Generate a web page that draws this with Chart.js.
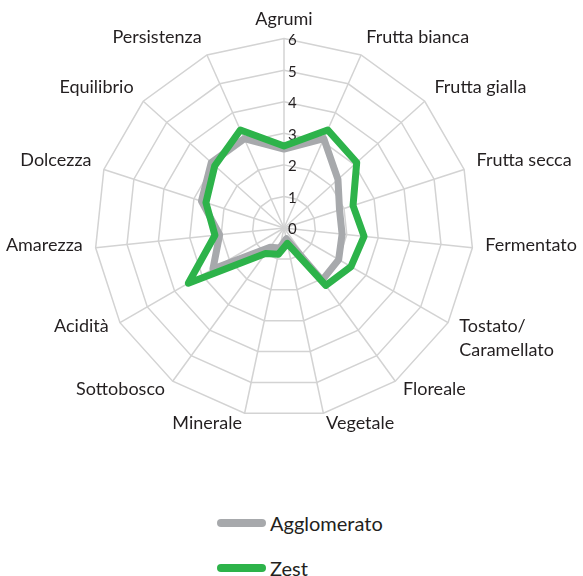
<!DOCTYPE html>
<html>
<head>
<meta charset="utf-8">
<script src="https://cdn.jsdelivr.net/npm/chart.js@4.4.1/dist/chart.umd.min.js"></script>
<style>
  html, body { margin: 0; padding: 0; background: #ffffff; }
  #wrap { position: relative; width: 583px; height: 576px; overflow: hidden; }
  #c { position: absolute; left: 0; top: 0; }
  .leg { position: absolute; left: 217px; height: 24px; display: flex; align-items: center;
         font-family: 'Lato', sans-serif; font-size: 20px; color: #231f20; }
  .leg .sw { width: 49px; height: 8px; border-radius: 4px; margin-right: 4px; }
</style>
</head>
<body>
<div id="wrap">
  <canvas id="c" width="583" height="450"></canvas>
  <div id="legend"></div>
</div>
<script>
const categories = ['Agrumi', 'Frutta bianca', 'Frutta gialla', 'Frutta secca', 'Fermentato',
  ['Tostato/', 'Caramellato'], 'Floreale', 'Vegetale', 'Minerale', 'Sottobosco',
  'Acidità', 'Amarezza', 'Dolcezza', 'Equilibrio', 'Persistenza'];
const agglomerato = [2.5, 3.1, 2.3, 1.85, 1.85, 2.0, 2.05, 0.35, 0.65, 0.75, 2.6, 2.05, 2.75, 3.1, 3.1];
const zest = [2.6, 3.4, 3.1, 2.3, 2.55, 2.45, 2.25, 0.5, 0.85, 1.0, 3.5, 2.2, 2.6, 2.95, 3.4];
const tickLabels = ['0', '1', '2', '3', '4', '5', '6'];
const seriesNames = ['Agglomerato', 'Zest'];
const seriesColors = ['#a7a9ac', '#2db34a'];

const textPlugin = {
  id: 'radarText',
  beforeDatasetsDraw(chart) {
    const s = chart.scales.r;
    const ctx = chart.ctx;
    ctx.save();
    ctx.fillStyle = '#231f20';
    // tick labels, to the right of the vertical axis
    ctx.font = '15px Lato, sans-serif';
    ctx.textAlign = 'left';
    ctx.textBaseline = 'middle';
    tickLabels.forEach((t) => {
      const d = s.getDistanceFromCenterForValue(Number(t));
      ctx.fillText(t, s.xCenter + 4, s.yCenter - d + 1.5);
    });
    // category labels, centred on their spoke end
    ctx.font = '18px Lato, sans-serif';
    chart.data.labels.forEach((lab, i) => {
      const a = s.getIndexAngle(i);
      const p = s.getPointPosition(i, s.drawingArea + 13);
      const sn = Math.sin(a);
      ctx.textAlign = Math.abs(sn) < 0.05 ? 'center' : (sn > 0 ? 'left' : 'right');
      const lines = Array.isArray(lab) ? lab : [lab];
      const y0 = p.y - (4.25 + 1.75 * Math.cos(a));
      lines.forEach((ln, k) => ctx.fillText(ln, p.x, y0 + k * 24));
    });
    ctx.restore();
  }
};

new Chart(document.getElementById('c'), {
  type: 'radar',
  data: {
    labels: categories,
    datasets: [
      { label: seriesNames[0], data: agglomerato, borderColor: seriesColors[0], backgroundColor: seriesColors[0],
        borderWidth: 7, pointRadius: 0, fill: false, borderJoinStyle: 'round', order: 2 },
      { label: seriesNames[1], data: zest, borderColor: seriesColors[1], backgroundColor: seriesColors[1],
        borderWidth: 7, pointRadius: 0, fill: false, borderJoinStyle: 'round', order: 1 }
    ]
  },
  options: {
    responsive: false,
    animation: false,
    devicePixelRatio: 1,
    layout: { padding: { left: 0, right: 0, top: 3, bottom: 0 } },
    plugins: { legend: { display: false }, tooltip: { enabled: false } },
    scales: {
      r: {
        min: 0, max: 6,
        ticks: { display: false, stepSize: 1 },
        grid: { color: '#d3d3d3', lineWidth: 1.5 },
        angleLines: { color: '#d3d3d3', lineWidth: 1.5 },
        pointLabels: { font: { family: 'Lato', size: 18 }, color: 'rgba(0,0,0,0)', padding: 12 }
      }
    }
  },
  plugins: [textPlugin]
});

const legendEl = document.getElementById('legend');
const legendTops = [511, 556];
seriesNames.forEach((n, i) => {
  const d = document.createElement('div');
  d.className = 'leg';
  d.style.top = legendTops[i] + 'px';
  const sw = document.createElement('span');
  sw.className = 'sw';
  sw.style.background = seriesColors[i];
  const tx = document.createElement('span');
  tx.textContent = n;
  d.appendChild(sw); d.appendChild(tx);
  legendEl.appendChild(d);
});
</script>
</body>
</html>
